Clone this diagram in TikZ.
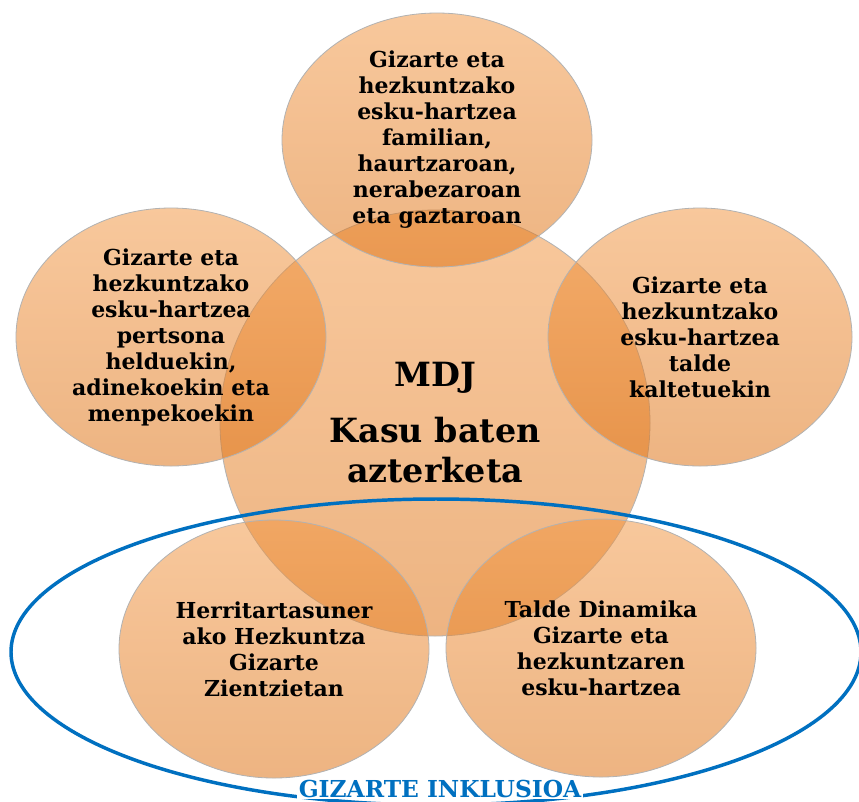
\documentclass[tikz,border=0pt]{standalone}
\usepackage{fontspec}
\setmainfont{DejaVu Serif}
\usepackage{tikz}
\usetikzlibrary{shapes.geometric}

\definecolor{bubbletop}{RGB}{242,150,66}
\definecolor{bubblebottom}{RGB}{222,112,16}
\definecolor{inklblue}{RGB}{0,112,192}

\tikzset{
	bubble/.style={ellipse, inner sep=0pt, minimum width=232.5pt, minimum height=193.5pt,
		top color=bubbletop, bottom color=bubblebottom, fill opacity=0.52, text opacity=1,
		draw=black!30, line width=0.6pt, align=center,
		font=\bfseries\fontsize{16.5}{19.5}\selectfont},
	core/.style={bubble, minimum width=322.5pt, minimum height=319.5pt,
		font=\bfseries\fontsize{25}{30}\selectfont},
	inclusion/.style={ellipse, draw=inklblue, line width=2.6pt, inner sep=0pt,
		minimum width=637.5pt, minimum height=229.5pt},
	incltext/.style={font=\bfseries\fontsize{17.5}{20}\selectfont, text=inklblue,
		fill=white, inner sep=1pt, anchor=base}
}

\begin{document}
\begin{tikzpicture}[x=0.75pt,y=-0.75pt]
				\clip (0,0) rectangle (859,801);
				\useasboundingbox (0,0) rectangle (859,801);
				\fill[white] (0,0) rectangle (859,801);

				\node[core] (mdj) at (435,423) {MDJ\\[12pt]Kasu baten\\azterketa};

				\node[bubble,minimum height=190.5pt] (familia) at (437,140)
				{Gizarte eta\\hezkuntzako\\esku-hartzea\\familian,\\haurtzaroan,\\nerabezaroan\\eta gaztaroan};
				\node[bubble] (helduak) at (171,337)
				{Gizarte eta\\hezkuntzako\\esku-hartzea\\pertsona\\helduekin,\\adinekoekin eta\\menpekoekin};
				\node[bubble,minimum width=228pt] (kaltetuak) at (700,337)
				{Gizarte eta\\hezkuntzako\\esku-hartzea\\talde\\kaltetuekin};
				\node[bubble] (herritar) at (274,649)
				{Herritartasuner\\ako Hezkuntza\\Gizarte\\Zientzietan};
				\node[bubble] (dinamika) at (601,648)
				{Talde Dinamika\\Gizarte eta\\hezkuntzaren\\esku-hartzea};

				% gizarte inklusioa
				\node[inclusion] (incl) at (436,652) {};
				\node[incltext] (incllabel) at (440,797) {GIZARTE INKLUSIOA};
			\end{tikzpicture}
\end{document}
